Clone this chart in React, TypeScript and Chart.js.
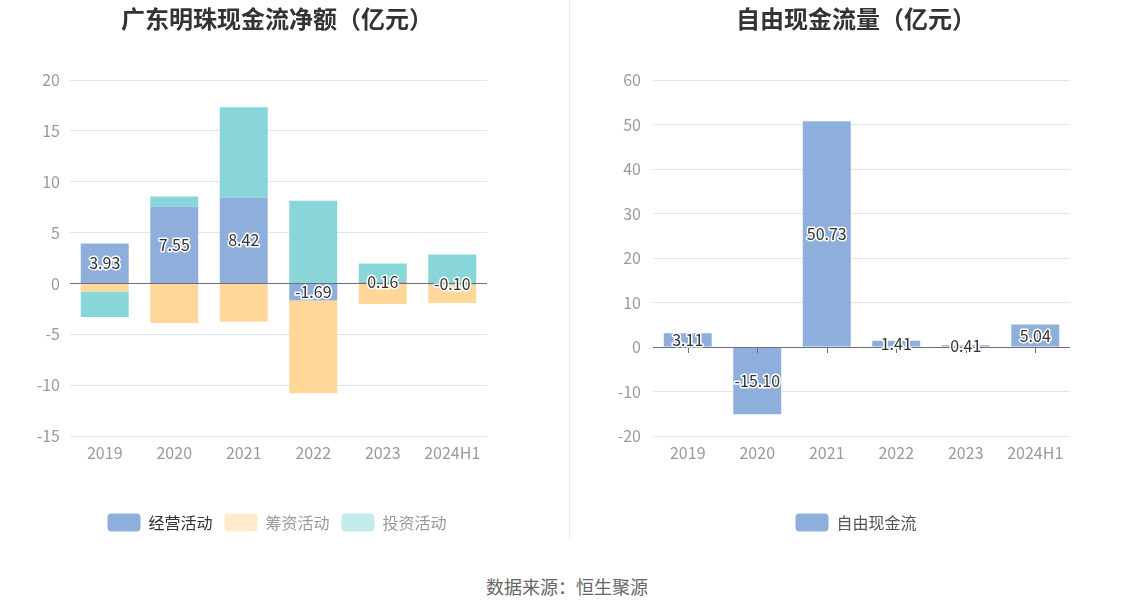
import React, { useEffect, useRef } from "react";
import { Chart, registerables } from "chart.js";

Chart.register(...registerables);

const categories = ["2019", "2020", "2021", "2022", "2023", "2024H1"];
const operating = [3.93, 7.55, 8.42, -1.69, 0.16, -0.1];
const financing = [-0.8, -3.9, -3.77, -9.1, -2.03, -1.83];
const investing = [-2.5, 1.0, 8.9, 8.13, 1.8, 2.85];
const freeCashFlow = [3.11, -15.1, 50.73, 1.41, 0.41, 5.04];

const leftTicks = { min: -15, max: 20, step: 5 };
const rightTicks = { min: -20, max: 60, step: 10 };

const FONT = '"Microsoft YaHei","Noto Sans CJK SC",sans-serif';
const GRID = "#E0E6F1";
const AXIS = "#6E7079";
const TICK_COLOR = "#9a9a9a";

const zeroLinePlugin = {
  id: "zeroLine",
  afterDatasetsDraw(chart: any, _args: any, opts: any) {
    const ctx = chart.ctx;
    const y = chart.scales.y.getPixelForValue(0);
    const area = chart.chartArea;
    ctx.save();
    ctx.strokeStyle = AXIS;
    ctx.lineWidth = 1;
    ctx.beginPath();
    ctx.moveTo(area.left, Math.round(y) + 0.5);
    ctx.lineTo(area.right, Math.round(y) + 0.5);
    ctx.stroke();
    if (opts && opts.ticks) {
      const xs = chart.scales.x;
      for (let i = 0; i < categories.length; i++) {
        const x = Math.round(xs.getPixelForValue(i)) + 0.5;
        ctx.beginPath();
        ctx.moveTo(x, Math.round(y) + 0.5);
        ctx.lineTo(x, Math.round(y) + 6);
        ctx.stroke();
      }
    }
    const idx = opts ? opts.labelDataset : 0;
    const meta = chart.getDatasetMeta(idx);
    const data = chart.data.datasets[idx].data;
    ctx.font = `16px ${FONT}`;
    ctx.textAlign = "center";
    ctx.textBaseline = "middle";
    ctx.lineJoin = "round";
    meta.data.forEach((el: any, i: number) => {
      const p = el.getProps(["x", "y", "base"], true);
      const cy = (p.y + p.base) / 2;
      const txt = Number(data[i]).toFixed(2);
      ctx.strokeStyle = "#fff";
      ctx.lineWidth = 3;
      ctx.strokeText(txt, p.x, cy);
      ctx.fillStyle = "#333";
      ctx.fillText(txt, p.x, cy);
    });
    ctx.restore();
  },
};

function makeOptions(
  title: string,
  ticks: { min: number; max: number; step: number },
  pad: number,
  yWidth: number,
  tickPad: number,
  legendItems: any[],
  pluginOpts: any
) {
  return {
    responsive: false,
    animation: false,
    devicePixelRatio: 1,
    layout: { padding: { left: pad, right: pad, top: 0, bottom: 8.5 } },
    plugins: {
      title: {
        display: true,
        text: title,
        color: "#333",
        font: { family: FONT, size: 24, weight: "bold" },
        padding: { top: 4, bottom: 47.2 },
      },
      legend: {
        display: true,
        position: "bottom",
        onClick: () => {},
        labels: {
          boxWidth: 33,
          boxHeight: 18,
          padding: 12,
          useBorderRadius: true,
          borderRadius: 4,
          font: { family: FONT, size: 16 },
          generateLabels: () => legendItems,
        },
      },
      tooltip: { enabled: false },
      zeroLine: pluginOpts,
    },
    scales: {
      x: {
        stacked: true,
        grid: { display: false, drawTicks: false },
        border: { display: false },
        ticks: { color: TICK_COLOR, font: { family: FONT, size: 16 }, padding: 7 },
        afterFit: (s: any) => {
          s.height = 65.5;
        },
      },
      y: {
        stacked: true,
        min: ticks.min,
        max: ticks.max,
        grid: {
          color: (c: any) => (c.tick && c.tick.value === 0 ? "rgba(0,0,0,0)" : GRID),
          drawTicks: false,
        },
        border: { display: false },
        ticks: {
          stepSize: ticks.step,
          color: TICK_COLOR,
          font: { family: FONT, size: 16 },
          padding: tickPad,
        },
        afterFit: (s: any) => {
          s.width = yWidth;
          s._computeLabelArea = () => undefined;
        },
      },
    },
  };
}

export default function App() {
  const leftRef = useRef<HTMLCanvasElement>(null);
  const rightRef = useRef<HTMLCanvasElement>(null);

  useEffect(() => {
    const leftLegend = [
      { text: "经营活动", fillStyle: "#8EAEDB", strokeStyle: "#8EAEDB", lineWidth: 0, fontColor: "#333", borderRadius: 4, hidden: false, datasetIndex: 0 },
      { text: "筹资活动", fillStyle: "#FFEBCC", strokeStyle: "#FFEBCC", lineWidth: 0, fontColor: "#999", borderRadius: 4, hidden: false, datasetIndex: 1 },
      { text: "投资活动", fillStyle: "#C3EBEC", strokeStyle: "#C3EBEC", lineWidth: 0, fontColor: "#999", borderRadius: 4, hidden: false, datasetIndex: 2 },
    ];
    const rightLegend = [
      { text: "自由现金流", fillStyle: "#8EAEDB", strokeStyle: "#8EAEDB", lineWidth: 0, fontColor: "#555", borderRadius: 4, hidden: false, datasetIndex: 0 },
    ];
    const barOpts = { categoryPercentage: 1, barPercentage: 0.69, borderWidth: 0 };
    const left = new Chart(leftRef.current as HTMLCanvasElement, {
      type: "bar",
      data: {
        labels: categories,
        datasets: [
          { label: "经营活动", data: operating, backgroundColor: "#8EAEDB", ...barOpts },
          { label: "筹资活动", data: financing, backgroundColor: "#FFD899", ...barOpts },
          { label: "投资活动", data: investing, backgroundColor: "#88D6D9", ...barOpts },
        ],
      },
      options: makeOptions("广东明珠现金流净额（亿元）", leftTicks, 67, 3, 10, leftLegend, { ticks: false, labelDataset: 0 }) as any,
      plugins: [zeroLinePlugin],
    });
    const right = new Chart(rightRef.current as HTMLCanvasElement, {
      type: "bar",
      data: {
        labels: categories,
        datasets: [
          { label: "自由现金流", data: freeCashFlow, backgroundColor: "#8EAEDB", ...barOpts },
        ],
      },
      options: makeOptions("自由现金流量（亿元）", rightTicks, 42, 11, 12, rightLegend, { ticks: true, labelDataset: 0 }) as any,
      plugins: [zeroLinePlugin],
    });
    return () => {
      left.destroy();
      right.destroy();
    };
  }, []);

  return (
    <div style={{ position: "fixed", left: 0, top: 0, width: 1134, height: 612, background: "#fff", overflow: "hidden" }}>
      <canvas ref={leftRef} width={554} height={550} style={{ position: "absolute", left: 0, top: 0, width: 554, height: 550 }} />
      <canvas ref={rightRef} width={512} height={550} style={{ position: "absolute", left: 600, top: 0, width: 512, height: 550 }} />
      <div style={{ position: "absolute", left: 569, top: 0, width: 1, height: 540, background: "#EEEEEE" }} />
      <div
        style={{
          position: "absolute",
          left: 0,
          top: 574,
          width: 1134,
          height: 24,
          lineHeight: "24px",
          textAlign: "center",
          fontFamily: FONT,
          fontSize: 18,
          color: "#666",
        }}
      >
        数据来源：恒生聚源
      </div>
    </div>
  );
}
